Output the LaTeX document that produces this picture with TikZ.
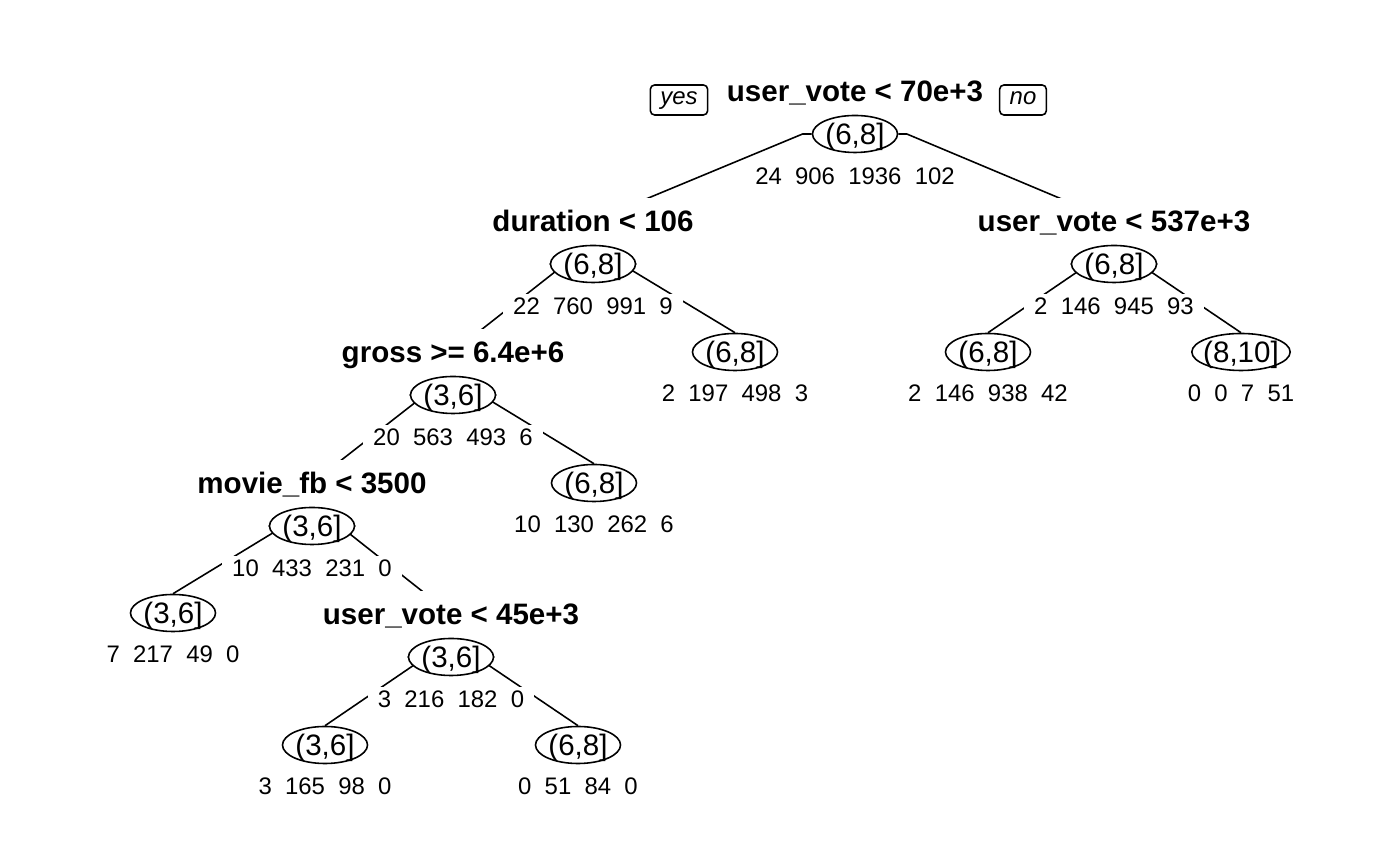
\documentclass[tikz,border=0pt]{standalone}
\usepackage{fontspec}
\setmainfont{Liberation Sans}
\usepackage{tikz}
\usetikzlibrary{shapes,calc,backgrounds}
\tikzstyle{classnode}=[ellipse,draw,fill=white,line width=0.45pt,minimum width=0.85cm,minimum height=0.37cm,inner xsep=-0.03cm,inner ysep=0pt,text height=0.22cm,text depth=0.01cm,font=\fontsize{8.4}{10}\selectfont]
\tikzstyle{rulelabel}=[fill=white,inner xsep=0.05cm,inner ysep=0.12cm,text height=0.21cm,text depth=0pt,font=\fontsize{8.4}{10}\selectfont\bfseries]
\tikzstyle{countlabel}=[fill=white,inner xsep=0.1cm,inner ysep=0.03cm,text height=0.17cm,text depth=0pt,font=\fontsize{6.8}{8}\selectfont]
\tikzstyle{answer}=[draw,rounded corners=1.2pt,line width=0.45pt,minimum height=0.3cm,inner xsep=0.1cm,inner ysep=0pt,text height=0.15cm,text depth=0.05cm,font=\fontsize{6.8}{8}\selectfont\itshape]
\tikzstyle{branch}=[draw,line width=0.45pt]

\begin{document}
\begin{tikzpicture}[x=0.01cm,y=-0.01cm]
    \useasboundingbox (0,0) rectangle (1400,865);
    % Split nodes: class, rule above, counts below
    \foreach \pos/\name/\cls/\cond/\cnt in {{(855,134)/root/{(6,8]}/{user\_vote < 70e+3}/{24~~906~~1936~~102}},
                            {(593,264)/dur/{(6,8]}/{duration < 106}/{22~~760~~991~~9}},
                            {(1114,264)/vote/{(6,8]}/{user\_vote < 537e+3}/{2~~146~~945~~93}},
                            {(453,395)/gross/{(3,6]}/{gross >= 6.4e+6}/{20~~563~~493~~6}},
                            {(312,526)/fb/{(3,6]}/{movie\_fb < 3500}/{10~~433~~231~~0}},
                            {(451,657)/vlow/{(3,6]}/{user\_vote < 45e+3}/{3~~216~~182~~0}}}
    {
        \node[classnode] (\name) at \pos {\cls};
        \node[rulelabel] (\name-lab) at ($(\name)+(0,-43)$) {\cond};
        \node[countlabel] (\name-n) at ($(\name)+(0,42)$) {\cnt};
        \coordinate (\name-in) at (\name-lab);
    }
    % Leaves
    \foreach \pos/\name/\cls/\cnt in {{(735,352)/durleaf/{(6,8]}/{2~~197~~498~~3}},
                            {(988,352)/votelo/{(6,8]}/{2~~146~~938~~42}},
                            {(1241,352)/votehi/{(8,10]}/{0~~0~~7~~51}},
                            {(594,483)/grossleaf/{(6,8]}/{10~~130~~262~~6}},
                            {(173,613)/fbleaf/{(3,6]}/{7~~217~~49~~0}},
                            {(325,745)/vlowa/{(3,6]}/{3~~165~~98~~0}},
                            {(578,745)/vlowb/{(6,8]}/{0~~51~~84~~0}}}
    {
        \node[classnode] (\name) at \pos {\cls};
        \node[countlabel] (\name-n) at ($(\name)+(0,41)$) {\cnt};
        \coordinate (\name-in) at (\name.north);
    }
    \node[answer] (yes) at (679,100) {yes};
    \node[answer] (no) at (1023,100) {no};
    % Branches go behind the white boxes
    \begin{scope}[on background layer]
    \foreach \src/\dst in {root/dur, root/vote, dur/gross, dur/durleaf, vote/votelo, vote/votehi,
                           gross/fb, gross/grossleaf, fb/fbleaf, fb/vlow, vlow/vlowa, vlow/vlowb}
    {
        \coordinate (bend) at ($(\src)!0.2!(\dst-in)$);
        \path[branch] (\dst-in) -- (bend |- \src) -- (\src);
    }
    \end{scope}
\end{tikzpicture}
\end{document}
